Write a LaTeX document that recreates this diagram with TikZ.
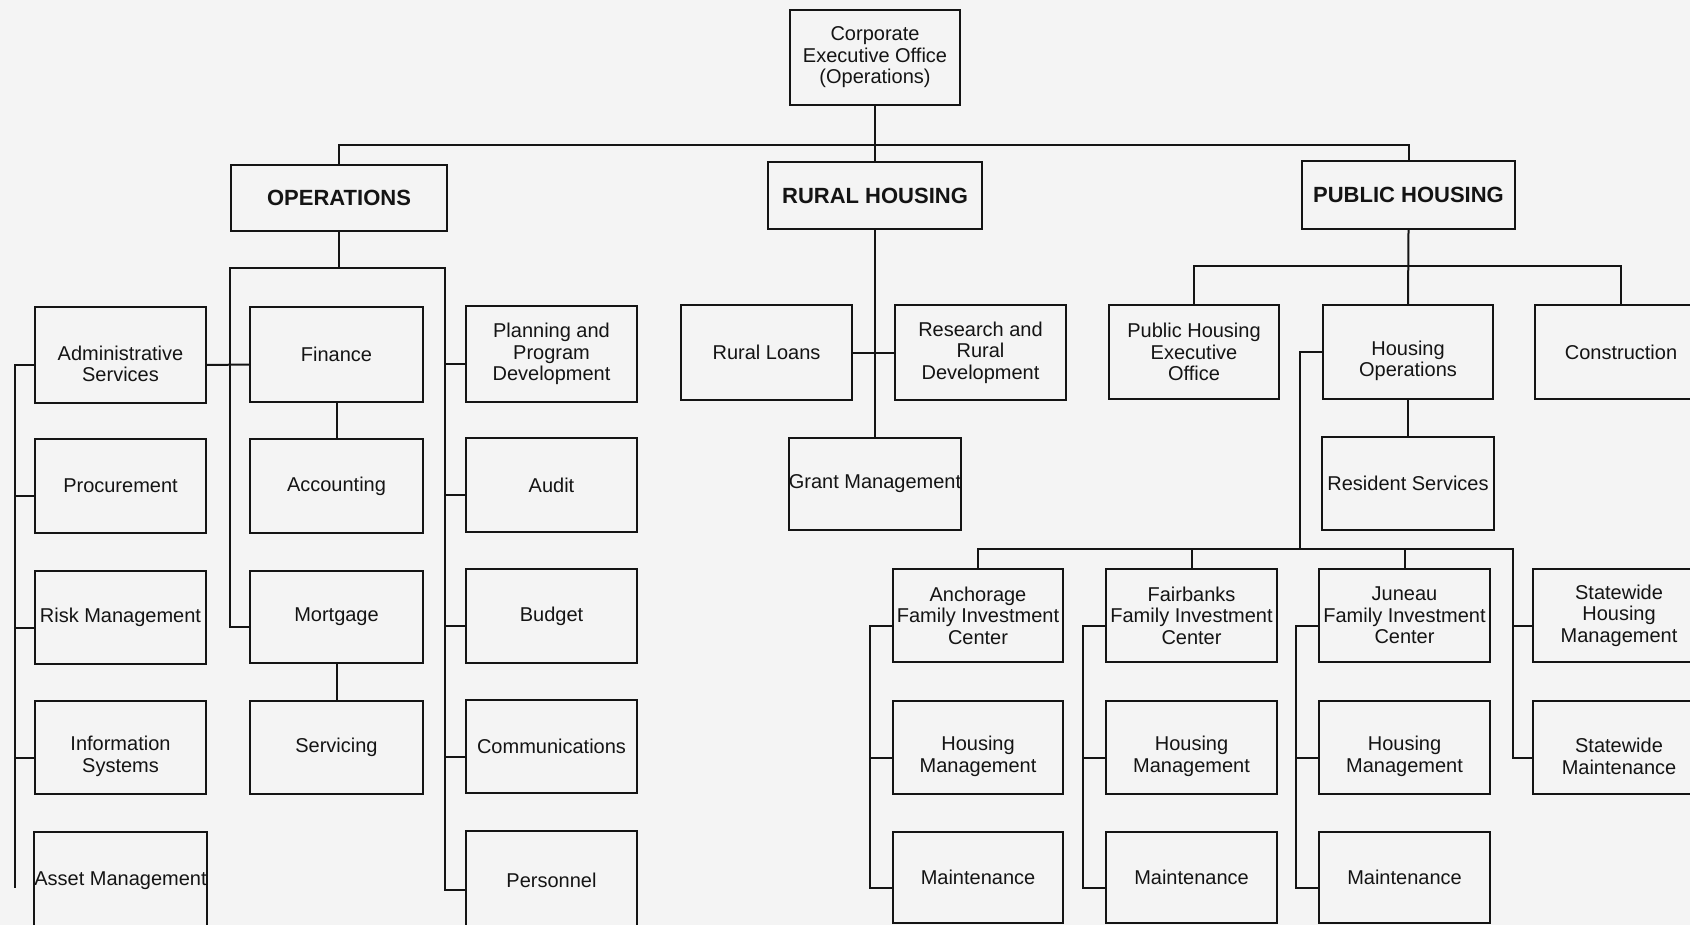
\documentclass[tikz,border=0pt]{standalone}
\usepackage{fontspec}
\setmainfont{Liberation Sans}
\usetikzlibrary{calc}
\definecolor{paper}{RGB}{244,244,244}
\definecolor{ink}{RGB}{20,20,20}
\tikzset{
  box/.style={draw=ink, line width=1pt, inner sep=0pt, align=center, text=ink,
    font=\fontsize{10}{10.75}\selectfont},
  head/.style={box, font=\bfseries\fontsize{11}{12}\selectfont},
  wire/.style={draw=ink, line width=1pt},
}
% \orgbox[style]{name}{x1}{y1}{x2}{y2}{text}: a box given by its corners
\newcommand\orgbox[7][box]{%
  \node[#1, minimum width={(#5-#3)*0.5pt}, minimum height={(#6-#4)*0.5pt}]
    (#2) at ({(#3+#5)/2},{(#4+#6)/2}) {#7};}
% two-line labels sit a little below the middle of their box
\newcommand\dropline{\rule{0pt}{16pt}}
\begin{document}
\begin{tikzpicture}[x=0.5pt, y=-0.5pt]
\fill[paper] (0,0) rectangle (1690,925);
\path[use as bounding box, clip] (0,0) rectangle (1690,925);

% top level
\orgbox{corp}{790}{10}{960}{105}{Corporate\\Executive Office\\(Operations)}
\orgbox[head]{ops}{231}{165}{447}{231}{OPERATIONS}
\orgbox[head]{rural}{768}{162}{982}{229}{RURAL HOUSING}
\orgbox[head]{pub}{1302}{161}{1515}{229}{PUBLIC HOUSING}

% operations: left column
\orgbox{admin}{35}{307}{206}{403}{\dropline Administrative\\Services}
\orgbox{proc}{35}{439}{206}{533}{Procurement}
\orgbox{risk}{35}{571}{206}{664}{Risk Management}
\orgbox{info}{35}{701}{206}{794}{\dropline Information\\Systems}
\orgbox{asset}{35}{832}{206}{929}{Asset Management}
% operations: middle column
\orgbox{fin}{250}{307}{423}{402}{Finance}
\orgbox{acc}{250}{439}{423}{533}{Accounting}
\orgbox{mort}{250}{571}{423}{663}{Mortgage}
\orgbox{serv}{250}{701}{423}{794}{Servicing}
% operations: right column
\orgbox{plan}{466}{306}{637}{402}{Planning and\\Program\\Development}
\orgbox{audit}{466}{438}{637}{532}{Audit}
\orgbox{budget}{466}{569}{637}{663}{Budget}
\orgbox{comm}{466}{700}{637}{793}{Communications}
\orgbox{pers}{466}{831}{637}{929}{Personnel}

% rural housing
\orgbox{loans}{681}{305}{852}{400}{Rural Loans}
\orgbox{research}{895}{305}{1066}{400}{Research and\\Rural\\Development}
\orgbox{grant}{789}{438}{961}{530}{Grant Management}

% public housing
\orgbox{phexec}{1109}{305}{1279}{399}{Public Housing\\Executive\\Office}
\orgbox{hops}{1323}{305}{1493}{399}{\dropline Housing\\Operations}
\orgbox{cons}{1535}{305}{1707}{399}{Construction}
\orgbox{resid}{1322}{437}{1494}{530}{Resident Services}

\orgbox{anc}{893}{569}{1063}{662}{Anchorage\\Family Investment\\Center}
\orgbox{hmA}{893}{701}{1063}{794}{\dropline Housing\\Management}
\orgbox{mtA}{893}{832}{1063}{923}{Maintenance}
\orgbox{fair}{1106}{569}{1277}{662}{Fairbanks\\Family Investment\\Center}
\orgbox{hmF}{1106}{701}{1277}{794}{\dropline Housing\\Management}
\orgbox{mtF}{1106}{832}{1277}{923}{Maintenance}
\orgbox{jun}{1319}{569}{1490}{662}{Juneau\\Family Investment\\Center}
\orgbox{hmJ}{1319}{701}{1490}{794}{\dropline Housing\\Management}
\orgbox{mtJ}{1319}{832}{1490}{923}{Maintenance}
\orgbox{swhm}{1533}{569}{1705}{662}{Statewide\\Housing\\Management}
\orgbox{swmt}{1533}{701}{1705}{794}{\dropline Statewide\\Maintenance}

% bus coordinates
\coordinate (topbus) at (0,145);
\coordinate (oL) at (230,268);
\coordinate (oR) at (445,268);
\coordinate (lbot) at (15,888);
\coordinate (pbus) at (0,266);
\coordinate (hbot) at (1300,549);
\coordinate (swtop) at (1513,549);

% top level connectors
\draw[wire] (corp.south) -- (rural.north);
\draw[wire] (ops.north) |- (pub.north |- topbus) -- (pub.north);

% operations connectors
\draw[wire] (ops.south) -- (ops.south |- oL);
\draw[wire] ($(mort.west)+(0,10)$) -| (oL) -- (oR) |- ($(pers.west)+(0,10)$);
\foreach \n in {plan,audit,budget,comm}
  \draw[wire] ($(\n.west)+(0,10)$) -- ++(-21,0);
\draw[wire] ($(admin.west)+(0,10)$) -| (lbot);
\foreach \n in {proc,risk,info}
  \draw[wire] ($(\n.west)+(0,10)$) -- ++(-20,0);
\draw[wire] ($(admin.east)+(0,10)$) -- ($(fin.west)+(0,10)$);
\draw[wire] (fin.south) -- (acc.north);
\draw[wire] (mort.south) -- (serv.north);

% rural housing connectors
\draw[wire] (rural.south) -- (grant.north);
\draw[wire] (loans.east) -- (research.west);

% public housing connectors
\draw[wire] (pub.south) -- (hops.north);
\draw[wire] (hops.south) -- (resid.north);
\draw[wire] (phexec.north) |- (cons.north |- pbus) -- (cons.north);
\draw[wire] (hops.west) -| (hbot);
\draw[wire] (anc.north) |- (swtop) |- ($(swmt.west)+(0,10)$);
\draw[wire] (fair.north) -- (fair.north |- swtop);
\draw[wire] (jun.north) -- (jun.north |- swtop);
\draw[wire] ($(swhm.west)+(0,10)$) -- ++(-20,0);
\foreach \c/\h/\m in {anc/hmA/mtA,fair/hmF/mtF,jun/hmJ/mtJ}{
  \draw[wire] ($(\c.west)+(0,10)$) -- ++(-22,0) |- ($(\m.west)+(0,10)$);
  \draw[wire] ($(\h.west)+(0,10)$) -- ++(-22,0);
}
\end{tikzpicture}
\end{document}
